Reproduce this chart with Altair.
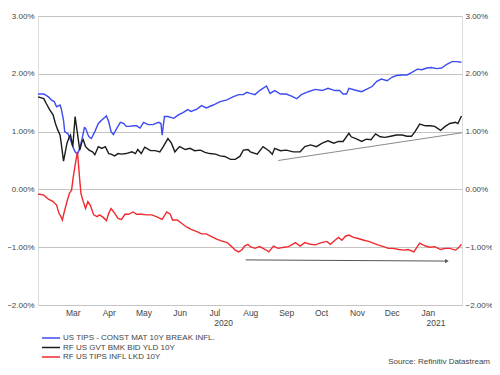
import altair as alt
import pandas as pd

# ---------------- data ----------------
START = "2020-02-15"          # first observation (day 0)
NAMES = ["US TIPS - CONST MAT 10Y BREAK INFL.", "RF US GVT BMK BID YLD 10Y", "RF US TIPS INFL LKD 10Y"]
COLORS = ["#3b4cf0", "#1c1c1c", "#f02a2f"]

blue_days = [0, 5, 9, 12, 14, 16, 18, 19, 20, 22, 23, 26, 28, 30, 32, 34, 36, 38, 40, 41, 43, 44, 46, 49, 52, 55,
             59, 61, 63, 65, 68, 71, 74, 76, 79, 82, 85, 88, 91, 95, 99, 104, 106, 107, 109, 112, 117, 121, 125,
             129, 132, 137, 141, 145, 151, 157, 163, 168, 173, 177, 180, 183, 187, 191, 197, 200, 204, 209, 214,
             219, 223, 227, 233, 239, 245, 250, 256, 260, 263, 266, 268, 273, 279, 283, 288, 292, 296, 301, 305,
             309, 314, 318, 322, 327, 331, 335, 339, 344, 348, 352, 357, 361, 365]
blue_vals = [1.65, 1.65, 1.60, 1.54, 1.52, 1.43, 1.45, 1.46, 1.40, 1.20, 1.00, 0.96, 0.86, 0.74, 0.65, 0.61, 0.71,
             0.88, 1.07, 1.06, 0.95, 0.91, 0.88, 1.00, 1.14, 1.20, 1.27, 1.17, 1.00, 0.95, 1.06, 1.16, 1.14, 1.09,
             1.09, 1.10, 1.10, 1.06, 1.16, 1.12, 1.12, 1.16, 1.14, 0.94, 1.26, 1.26, 1.23, 1.29, 1.33, 1.38, 1.35,
             1.39, 1.45, 1.41, 1.46, 1.52, 1.55, 1.60, 1.64, 1.64, 1.68, 1.66, 1.64, 1.71, 1.79, 1.66, 1.71, 1.65,
             1.65, 1.61, 1.57, 1.64, 1.69, 1.73, 1.71, 1.75, 1.71, 1.71, 1.65, 1.65, 1.75, 1.72, 1.69, 1.73, 1.78,
             1.87, 1.91, 1.88, 1.94, 1.97, 1.98, 1.98, 2.02, 2.08, 2.07, 2.10, 2.11, 2.09, 2.10, 2.16, 2.21, 2.21,
             2.20]

black_days = [0, 5, 7, 10, 13, 15, 17, 19, 20, 22, 25, 27, 28, 30, 32, 34, 36, 38, 39, 41, 44, 47, 49, 52, 55, 58,
              61, 63, 66, 69, 72, 76, 81, 84, 86, 89, 92, 97, 101, 105, 108, 112, 115, 118, 122, 127, 131, 135,
              140, 144, 148, 153, 157, 161, 166, 170, 174, 177, 181, 183, 189, 194, 199, 202, 204, 209, 214, 220,
              226, 230, 235, 240, 245, 250, 255, 259, 263, 268, 270, 275, 279, 283, 287, 291, 295, 299, 304, 309,
              314, 318, 322, 325, 329, 334, 338, 342, 347, 351, 355, 360, 362, 365]
black_vals = [1.60, 1.57, 1.49, 1.38, 1.29, 1.14, 1.03, 0.94, 0.80, 0.49, 0.80, 0.91, 0.94, 0.74, 1.26, 0.97, 0.68,
              0.83, 0.86, 0.74, 0.68, 0.65, 0.60, 0.74, 0.71, 0.74, 0.62, 0.61, 0.58, 0.62, 0.61, 0.62, 0.65, 0.62,
              0.69, 0.62, 0.73, 0.67, 0.67, 0.65, 0.74, 0.88, 0.80, 0.65, 0.74, 0.69, 0.71, 0.67, 0.68, 0.64, 0.62,
              0.61, 0.58, 0.57, 0.52, 0.52, 0.57, 0.68, 0.69, 0.65, 0.61, 0.74, 0.67, 0.61, 0.71, 0.67, 0.68, 0.65,
              0.65, 0.74, 0.77, 0.74, 0.80, 0.84, 0.80, 0.83, 0.83, 0.97, 0.91, 0.87, 0.83, 0.87, 0.86, 0.96, 0.91,
              0.90, 0.92, 0.94, 0.94, 0.92, 0.92, 1.00, 1.13, 1.10, 1.10, 1.09, 1.02, 1.09, 1.14, 1.16, 1.14, 1.27]

red_days = [0, 5, 9, 13, 16, 18, 20, 21, 23, 25, 27, 29, 30, 32, 34, 36, 37, 39, 41, 43, 45, 48, 51, 53, 56, 59, 61,
            63, 66, 69, 72, 75, 78, 82, 85, 89, 94, 98, 102, 107, 111, 114, 116, 120, 124, 128, 132, 137, 141, 145,
            150, 154, 158, 163, 167, 170, 173, 176, 178, 181, 183, 187, 191, 196, 199, 203, 207, 212, 216, 222,
            226, 230, 235, 239, 243, 249, 252, 256, 259, 262, 265, 268, 272, 276, 281, 285, 289, 293, 298, 302,
            306, 311, 315, 319, 324, 327, 329, 334, 338, 342, 347, 351, 355, 360, 362, 365]
red_vals = [-0.08, -0.10, -0.17, -0.21, -0.27, -0.41, -0.48, -0.53, -0.36, -0.21, -0.07, -0.01, 0.16, 0.42, 0.65,
            0.16, -0.07, -0.21, -0.33, -0.21, -0.27, -0.44, -0.47, -0.44, -0.48, -0.54, -0.41, -0.33, -0.41, -0.50,
            -0.52, -0.43, -0.43, -0.39, -0.43, -0.43, -0.44, -0.44, -0.47, -0.52, -0.39, -0.43, -0.53, -0.53,
            -0.59, -0.65, -0.69, -0.73, -0.77, -0.77, -0.82, -0.86, -0.89, -0.92, -0.99, -1.05, -1.08, -1.04,
            -0.98, -0.95, -0.99, -1.02, -0.99, -1.04, -1.08, -0.98, -1.02, -1.00, -0.99, -0.92, -0.98, -0.92,
            -0.95, -0.96, -0.93, -0.90, -0.95, -0.88, -0.83, -0.88, -0.81, -0.79, -0.83, -0.85, -0.88, -0.90,
            -0.93, -0.96, -0.99, -1.02, -1.02, -1.04, -1.05, -1.04, -1.08, -0.99, -0.93, -0.98, -1.00, -0.99,
            -1.04, -1.02, -1.02, -1.05, -1.02, -0.95]

# annotations
trend_days = [207, 365.5]
trend_vals = [0.50, 0.98]
arrow_days = [179, 352.5]
arrow_vals = [-1.22, -1.24]

year_labels = ["2020", "2021"]
year_days = [160, 343]

month_ticks = [(2020, m) for m in range(3, 13)] + [(2021, 1)]
y_ticks = [-2, -1, 0, 1, 2, 3]
SOURCE = "Source: Refinitiv Datastream"

# ---------------- build frames ----------------
base = pd.Timestamp(START)


def to_dates(days):
    return [(base + pd.Timedelta(days=float(d))).strftime("%Y-%m-%dT%H:%M:%S") for d in days]


lines_df = pd.concat([
    pd.DataFrame({"series": NAMES[0], "date": to_dates(blue_days), "value": blue_vals}),
    pd.DataFrame({"series": NAMES[1], "date": to_dates(black_days), "value": black_vals}),
    pd.DataFrame({"series": NAMES[2], "date": to_dates(red_days), "value": red_vals}),
], ignore_index=True)
trend_df = pd.DataFrame({"date": to_dates(trend_days), "value": trend_vals})
arrow_df = pd.DataFrame({"date": to_dates(arrow_days), "value": arrow_vals})
head_df = arrow_df.iloc[[-1]]
year_df = pd.DataFrame({"date": to_dates(year_days), "label": year_labels})
src_df = pd.DataFrame({"t": [SOURCE]})

W, H = 424, 289
FONT = "Liberation Sans"
end = base + pd.Timedelta(days=365.5)

x_scale = alt.Scale(domain=[alt.DateTime(year=2020, month=2, date=15),
                            alt.DateTime(year=end.year, month=end.month, date=end.day, hours=end.hour)])
y_scale = alt.Scale(domain=[-2, 3], nice=False)

x_axis = alt.Axis(values=[alt.DateTime(year=y, month=m, date=16) for (y, m) in month_ticks],
                  format="%b", title=None, domain=False, ticks=False, grid=False,
                  labelPadding=3, labelFontSize=8.5, labelColor="#444", labelFont=FONT)
lbl = "format(datum.value, '.2f') + '%'"
y_left = alt.Axis(values=y_ticks, labelExpr=lbl, title=None, domain=False, ticks=False,
                  grid=True, gridColor="#c4c4c4", gridWidth=1, labelPadding=4,
                  labelFontSize=8, labelColor="#444", labelFont=FONT)
y_right = alt.Axis(values=y_ticks, labelExpr=lbl, title=None, domain=False, ticks=False,
                   grid=False, orient="right", labelPadding=3,
                   labelFontSize=8, labelColor="#444", labelFont=FONT)

X = alt.X("date:T", scale=x_scale, axis=x_axis)
Xp = alt.X("date:T", scale=x_scale)

lines = alt.Chart(lines_df).mark_line(strokeWidth=1.4).encode(
    x=X,
    y=alt.Y("value:Q", scale=y_scale, axis=y_left),
    color=alt.Color("series:N", scale=alt.Scale(domain=NAMES, range=COLORS),
                    sort=NAMES,
                    legend=alt.Legend(orient="none", legendX=9, legendY=318, title=None,
                                      symbolType="M-3,0H3", symbolSize=36, symbolStrokeWidth=1.5,
                                      labelFontSize=8, labelFont=FONT, labelColor="#444",
                                      labelOffset=8, rowPadding=1.5, padding=0)),
    detail="series:N",
)

trend = alt.Chart(trend_df).mark_line(color="#8a8a8a", strokeWidth=1).encode(
    x=Xp,
    y=alt.Y("value:Q", scale=y_scale, axis=y_right),
)

arrow = alt.Chart(arrow_df).mark_line(color="#555555", strokeWidth=1).encode(
    x=Xp,
    y=alt.Y("value:Q", scale=y_scale, axis=None),
)
head = alt.Chart(head_df).mark_point(shape="triangle-right", filled=True, size=18,
                                     color="#555555", opacity=1).encode(
    x=Xp,
    y=alt.Y("value:Q", scale=y_scale, axis=None),
)

years = alt.Chart(year_df).mark_text(fontSize=8.5, font=FONT, color="#444", baseline="middle").encode(
    x=Xp,
    y=alt.value(H + 18),
    text="label:N",
)

source = alt.Chart(src_df).mark_text(fontSize=8, font=FONT, color="#444", align="right",
                                     baseline="middle").encode(
    x=alt.value(W + 28),
    y=alt.value(H + 57),
    text="t:N",
)

chart = alt.layer(lines, trend, arrow, head, years, source).resolve_scale(
    y="shared", x="shared"
).resolve_axis(
    y="independent"
).properties(
    width=W, height=H,
    autosize=alt.AutoSizeParams(type="none"),
    padding={"left": 30, "top": 8, "right": 30, "bottom": 62},
).configure_view(strokeWidth=0).configure(background="white")

chart.save("out.html", embed_options={"renderer": "svg", "actions": False})
